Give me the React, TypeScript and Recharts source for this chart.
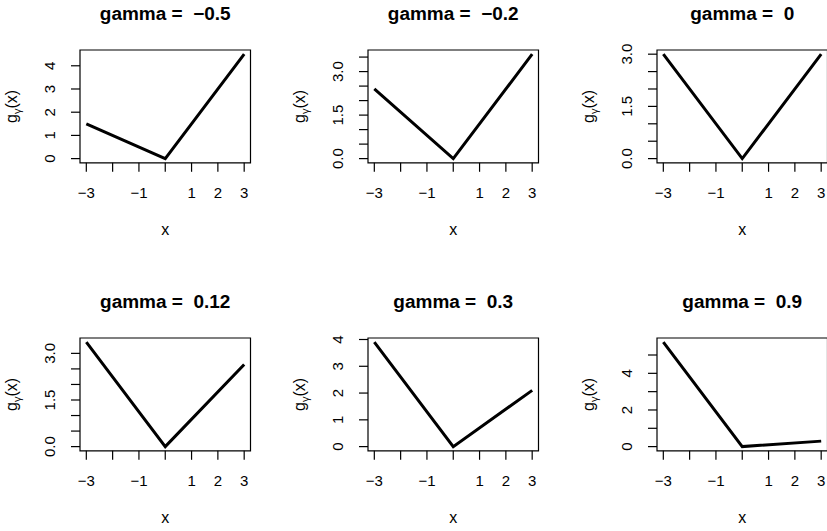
import React from "react";
import { LineChart, Line, XAxis, YAxis, ReferenceArea } from "recharts";

// ---- data ----
const xValues = [-3, 0, 3];
const gammaLabels = ["−0.5", "−0.2", "0", "0.12", "0.3", "0.9"];
const gNeg05 = [1.5, 0, 4.5];
const gNeg02 = [2.4, 0, 3.6];
const gZero = [3, 0, 3];
const gPos012 = [3.36, 0, 2.64];
const gPos03 = [3.9, 0, 2.1];
const gPos09 = [5.7, 0, 0.3];

const xTicks = [-3, -2, -1, 0, 1, 2, 3];
const xTickLabels = ["−3", "", "−1", "", "1", "2", "3"];

const yTicksA = [0, 1, 2, 3, 4];
const yTicksB = [0, 0.5, 1, 1.5, 2, 2.5, 3, 3.5];
const yTicksC = [0, 0.5, 1, 1.5, 2, 2.5, 3];
const yTicksD = [0, 1, 2, 3, 4, 5];
const yLabelsA = ["0", "1", "2", "3", "4"];
const yLabelsB = ["0.0", "", "", "1.5", "", "", "3.0", ""];
const yLabelsC = ["0.0", "", "", "1.5", "", "", "3.0"];
const yLabelsD = ["0", "", "2", "", "4", ""];

const seriesList = [gNeg05, gNeg02, gZero, gPos012, gPos03, gPos09];
const yTickList = [yTicksA, yTicksB, yTicksC, yTicksC, yTicksA, yTicksD];
const yLabelList = [yLabelsA, yLabelsB, yLabelsC, yLabelsC, yLabelsA, yLabelsD];

// ---- layout ----
const FONT = '"Liberation Sans", Arial, Helvetica, sans-serif';
const TICK_FS = 15;
const colLeft = [80, 368.3, 656.7];
const rowTop = [50, 337.7];
const boxW = 170.5;
const boxH = 112.8;
const ML = 80;
const MT = 50;
const MB = 80;

function YTick(props: any) {
  const { x, y, payload, ticks, labels } = props;
  const idx = ticks.indexOf(payload.value);
  const txt = idx >= 0 ? labels[idx] : "";
  return (
    <text
      x={x}
      y={y}
      transform={`rotate(-90 ${x} ${y})`}
      textAnchor="middle"
      fontSize={TICK_FS}
      fontFamily={FONT}
      fill="#000"
    >
      {txt}
    </text>
  );
}

function Panel({ i }: { i: number }) {
  const vals = seriesList[i];
  const data = xValues.map((x, k) => ({ x, y: vals[k] }));
  const lo = Math.min(...vals);
  const hi = Math.max(...vals);
  const r = hi - lo;
  const yDom: [number, number] = [lo - 0.04 * r, hi + 0.04 * r];
  const xr = xValues[xValues.length - 1] - xValues[0];
  const xDom: [number, number] = [xValues[0] - 0.04 * xr, xValues[xValues.length - 1] + 0.04 * xr];
  const ticks = yTickList[i];
  const labels = yLabelList[i];
  const col = i % 3;
  const row = Math.floor(i / 3);
  const W = ML + boxW + 1;
  const H = MT + boxH + MB;
  const cx = ML + boxW / 2;
  const cy = MT + boxH / 2;
  const ylx = 17.5;
  return (
    <div style={{ position: "absolute", left: colLeft[col] - ML, top: rowTop[row] - MT, width: W, height: H }}>
      <LineChart width={W} height={H} data={data} margin={{ top: MT, right: 1, bottom: 0, left: 0 }}>
        <XAxis
          type="number"
          dataKey="x"
          domain={xDom}
          allowDataOverflow
          ticks={xTicks}
          interval={0}
          tickFormatter={(v: number) => xTickLabels[xTicks.indexOf(v)] ?? ""}
          height={MB}
          tickSize={9}
          tickMargin={15.5}
          axisLine={false}
          tickLine={{ stroke: "#000", strokeWidth: 1.2 }}
          tick={{ fill: "#000", fontSize: TICK_FS, fontFamily: FONT }}
        />
        <YAxis
          type="number"
          domain={yDom}
          allowDataOverflow
          ticks={ticks}
          interval={0}
          width={ML}
          tickSize={9}
          tickMargin={16}
          axisLine={false}
          tickLine={{ stroke: "#000", strokeWidth: 1.2 }}
          tick={<YTick ticks={ticks} labels={labels} />}
        />
        <ReferenceArea
          x1={xDom[0]}
          x2={xDom[1]}
          y1={yDom[0]}
          y2={yDom[1]}
          fill="none"
          fillOpacity={0}
          stroke="#000"
          strokeWidth={1.2}
          ifOverflow="visible"
        />
        <Line
          type="linear"
          dataKey="y"
          stroke="#000"
          strokeWidth={3}
          dot={false}
          activeDot={false}
          isAnimationActive={false}
        />
        <text
          x={cx}
          y={MT - 29.5}
          textAnchor="middle"
          fontSize={19}
          fontWeight="bold"
          fontFamily={FONT}
          fill="#000"
          style={{ whiteSpace: "pre" }}
        >
          {`gamma =  ${gammaLabels[i]}`}
        </text>
        <text x={cx} y={MT + boxH + 72} textAnchor="middle" fontSize={16} fontFamily={FONT} fill="#000">
          x
        </text>
        <text
          x={ylx}
          y={cy}
          transform={`rotate(-90 ${ylx} ${cy})`}
          textAnchor="middle"
          fontSize={16}
          fontFamily={FONT}
          fill="#000"
        >
          g
          <tspan dy={3.5} fontSize={11}>γ</tspan>
          <tspan dy={-3.5} fontSize={16}>(x)</tspan>
        </text>
      </LineChart>
    </div>
  );
}

export default function App() {
  return (
    <div
      style={{
        position: "absolute",
        left: 0,
        top: 0,
        width: 827,
        height: 531,
        overflow: "hidden",
        background: "#fff",
      }}
    >
      {[0, 1, 2, 3, 4, 5].map((i) => (
        <Panel key={i} i={i} />
      ))}
    </div>
  );
}
